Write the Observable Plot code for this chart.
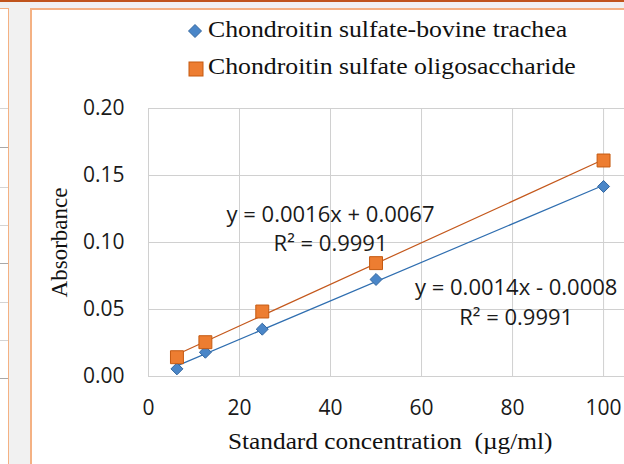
<!DOCTYPE html>
<html>
<head>
<meta charset="utf-8">
<script src="https://cdn.jsdelivr.net/npm/d3@7"></script>
<script src="https://cdn.jsdelivr.net/npm/@observablehq/plot@0.6"></script>
<style>
  html, body { margin: 0; padding: 0; }
  body { width: 624px; height: 464px; overflow: hidden; position: relative; background: #f1f1f1; }
  .abs { position: absolute; }
  .serif { font-family: "Liberation Serif", "Times New Roman", serif; font-size: 23px; color: #111; white-space: pre; line-height: 1; }
</style>
</head>
<body>
<div class="abs" style="left:0;top:0;width:624px;height:2px;background:#c0541c"></div>
<div class="abs" id="leftpanel" style="left:0;top:8px;width:8px;height:470px;background:#fff;border-top:1px solid #f4b183;border-right:1.5px solid #f4b183"></div>
<div class="abs" id="box" style="left:30px;top:8px;width:640px;height:500px;background:#fff;border:2px solid #f4b183;box-sizing:border-box"></div>
<div class="abs" id="chart" style="left:32px;top:10px"></div>
<div class="abs" id="legend"></div>
<script>
// ---- data ----
const concentration = [6.25, 12.5, 25, 50, 100];
const bovineTrachea = [0.0057, 0.0181, 0.0353, 0.0724, 0.1418];
const oligosaccharide = [0.0144, 0.0256, 0.0485, 0.0846, 0.1612];
const seriesNames = ["Chondroitin sulfate-bovine trachea", "Chondroitin sulfate oligosaccharide"];
const xTicks = [0, 20, 40, 60, 80, 100];
const yTicks = [0, 0.05, 0.10, 0.15, 0.20];
const eqBovine = "y = 0.0014x - 0.0008\nR² = 0.9991";
const eqOligo = "y = 0.0016x + 0.0067\nR² = 0.9991";
const xTitle = "Standard concentration  (µg/ml)";
const yTitle = "Absorbance";

// left panel separator lines
const panelLines = [108, 147, 187, 225, 263, 302, 340, 378];
const dark = [147, 263, 378];
panelLines.forEach(y => {
  const d = document.createElement("div");
  d.className = "abs";
  d.style.cssText = `left:0;top:${y}px;width:8px;height:1px;background:${dark.includes(y) ? "#a8a8a8" : "#d4d4d4"}`;
  document.body.appendChild(d);
});

const bovine = concentration.map((c, i) => ({x: c, y: bovineTrachea[i]}));
const oligo = concentration.map((c, i) => ({x: c, y: oligosaccharide[i]}));

const blueFill = "#4a86c8", blueStroke = "#34679f", blueLine = "#2f6eb0";
const orFill = "#ed7d31", orStroke = "#c55a11", orLine = "#c4581c";
const grid = "#d0d0d0";

const plot = Plot.plot({
  width: 592,
  height: 454,
  marginLeft: 116,
  marginTop: 98,
  marginBottom: 88,
  marginRight: 0,
  style: {fontFamily: "Open Sans, sans-serif", fontSize: "21px", color: "#1a1a1a", background: "transparent", overflow: "visible"},
  x: {domain: [0, 104.6]},
  y: {domain: [0, 0.2]},
  marks: [
    Plot.gridX(xTicks, {stroke: grid, strokeOpacity: 1}),
    Plot.gridY(yTicks, {stroke: grid, strokeOpacity: 1}),
    Plot.axisX({ticks: xTicks, tickSize: 0, tickPadding: 24, label: null, fontSize: 21}),
    Plot.axisY({ticks: yTicks, tickSize: 0, tickPadding: 24, label: null, fontSize: 21, tickFormat: d => d.toFixed(2)}),
    Plot.linearRegressionY(bovine, {x: "x", y: "y", stroke: blueLine, strokeWidth: 1.2, ci: 0}),
    Plot.linearRegressionY(oligo, {x: "x", y: "y", stroke: orLine, strokeWidth: 1.2, ci: 0}),
    Plot.dot(bovine, {x: "x", y: "y", symbol: "diamond2", r: 5.4, fill: blueFill, stroke: blueStroke, strokeWidth: 1}),
    Plot.dot(oligo, {x: "x", y: "y", symbol: "square", r: 7.3, fill: orFill, stroke: orStroke, strokeWidth: 1}),
    Plot.text([eqOligo], {x: 40, y: 0.1112, text: d => d, fontSize: 22, lineHeight: 1.3, lineAnchor: "middle", textAnchor: "middle", fill: "#1a1a1a"}),
    Plot.text([eqBovine], {x: 80.8, y: 0.0567, text: d => d, fontSize: 22, lineHeight: 1.35, lineAnchor: "middle", textAnchor: "middle", fill: "#1a1a1a"})
  ]
});
document.getElementById("chart").appendChild(plot);

// legend
const legend = document.getElementById("legend");
const items = [
  {name: seriesNames[0], cy: 31, base: 37, marker: `<svg width="16" height="16" style="position:absolute;left:187px;top:${31-8}px"><path d="M8,1.5L14.5,8L8,14.5L1.5,8Z" fill="${blueFill}" stroke="${blueStroke}"/></svg>`},
  {name: seriesNames[1], cy: 69, base: 74, marker: `<svg width="16" height="16" style="position:absolute;left:188px;top:${69-8}px"><rect x="1" y="1" width="14" height="14" fill="${orFill}" stroke="${orStroke}"/></svg>`}
];
items.forEach(it => {
  legend.insertAdjacentHTML("beforeend", it.marker);
  const t = document.createElement("div");
  t.className = "abs serif";
  t.textContent = it.name;
  t.style.left = "208px";
  t.style.top = (it.base - 19) + "px";
  t.style.transform = "scaleX(1.12)";
  t.style.transformOrigin = "left top";
  legend.appendChild(t);
});

// axis titles
const xt = document.createElement("div");
xt.className = "abs serif";
xt.textContent = xTitle;
xt.style.cssText += "left:228px;top:430px;transform:scaleX(1.1);transform-origin:left top;";
document.body.appendChild(xt);

const yt = document.createElement("div");
yt.className = "abs serif";
yt.textContent = yTitle;
yt.style.cssText += "left:0px;top:0px;transform-origin:0 0;";
document.body.appendChild(yt);
const w = yt.getBoundingClientRect().width;
// rotate -90 and place center at y=242.5, baseline near x=67
yt.style.transform = `translate(${48}px, ${242.5 + w / 2}px) rotate(-90deg)`;
</script>
</body>
</html>
